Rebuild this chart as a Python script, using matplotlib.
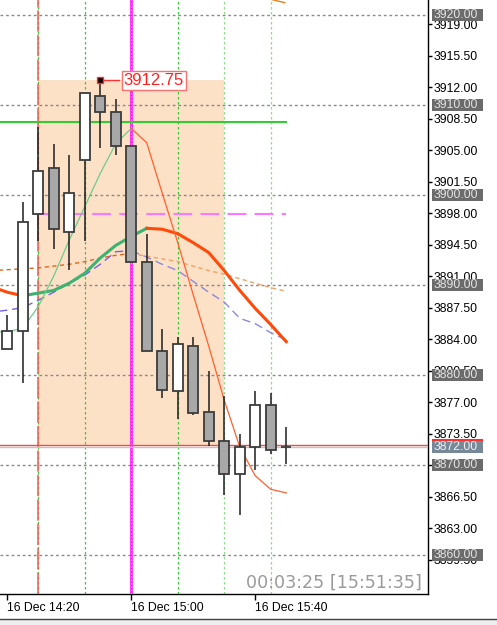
import numpy as np
import matplotlib.pyplot as plt
from matplotlib.patches import Rectangle
from matplotlib.transforms import blended_transform_factory

plt.rcParams['font.family'] = ['Liberation Sans', 'DejaVu Sans']

# 5 minute bars, 16 Dec
times = ['14:20', '14:25', '14:30', '14:35', '14:40', '14:45', '14:50', '14:55',
         '15:00', '15:05', '15:10', '15:15', '15:20', '15:25', '15:30', '15:35',
         '15:40', '15:45', '15:50']
opens = [3882.9, 3884.9, 3897.9, 3903.0, 3895.9, 3903.9, 3911.0, 3909.2, 3905.4, 3892.6,
         3882.7, 3878.2, 3883.2, 3875.9, 3872.7, 3869.0, 3872.0, 3876.7, 3872.0]
closes = [3884.9, 3897.0, 3902.7, 3896.2, 3900.2, 3911.3, 3909.2, 3905.4, 3892.6, 3882.7,
          3878.3, 3883.4, 3875.8, 3872.7, 3869.0, 3872.0, 3876.7, 3871.7, 3872.0]
highs = [3886.7, 3899.2, 3907.6, 3905.7, 3904.5, 3911.3, 3912.75, 3910.7, 3905.4, 3895.7,
         3885.1, 3884.2, 3884.2, 3880.4, 3877.7, 3873.5, 3878.2, 3878.0, 3874.2]
lows = [3882.9, 3879.1, 3894.9, 3894.0, 3891.7, 3894.9, 3905.2, 3904.4, 3892.6, 3882.7,
        3877.4, 3875.1, 3875.6, 3872.1, 3866.7, 3864.4, 3869.4, 3871.2, 3870.1]

# moving averages, first value is the bar before 14:20
fast_ma = [3884.8, 3884.8, 3885.2, 3887.6, 3891.0, 3895.0, 3898.7, 3902.4, 3905.7, 3907.4,
           3905.8, 3900.2, 3894.7, 3888.9, 3883.2, 3877.2, 3872.0, 3868.8, 3867.3, 3866.9]
mid_ma = [3889.8, 3889.2, 3888.8, 3889.1, 3889.4, 3890.2, 3891.3, 3893.0, 3894.4, 3895.4,
          3896.3, 3896.2, 3895.7, 3894.7, 3893.6, 3891.6, 3889.4, 3887.4, 3885.6, 3883.7]
slow_ma = [3891.6, 3891.7, 3891.8, 3891.9, 3892.1, 3892.3, 3892.6, 3893.0, 3893.3, 3893.5,
           3893.2, 3892.9, 3892.6, 3892.1, 3891.6, 3891.2, 3890.7, 3890.2, 3889.7, 3889.3]
blue_ma = [3887.0, 3887.2, 3887.5, 3888.3, 3889.2, 3890.2, 3891.1, 3892.3, 3893.7, 3893.8,
           3893.1, 3892.3, 3891.6, 3890.4, 3889.2, 3888.1, 3886.3, 3885.7, 3884.7, 3883.9]

round_levels = [3920, 3910, 3900, 3890, 3880, 3870, 3860]
price_ticks = np.arange(3859.5, 3920, 3.5)
green_level = 3908.1
magenta_level = 3897.9
bid = 3872.0
ask = 3872.18
range_start, range_end = 2, 14          # 14:30 .. 15:30
range_low = 3872.1
high_bar = int(np.argmax(highs))
grid_bars = [2, 5, 8, 11, 14, 17]
grid_colors = ['#33cc33', '#33cc33', '#33cc33', '#33cc33', '#8fdc8f', '#8fdc8f']
date_ticks = [0, 8, 16]

fig = plt.figure(figsize=(4.97, 6.25), dpi=100)
ax = fig.add_axes([0, 31 / 625, 428 / 497, 594 / 625])
ax.set_xlim(-0.468, 27.145)
ax.set_ylim(3855.667, 3921.667)

x = np.arange(len(times))
ma_x = np.arange(-1, len(times))


def colored_line(xs, ys, up, down, **kw):
    ys = np.asarray(ys)
    cols = [up if ys[k + 1] >= ys[k] else down for k in range(len(ys) - 1)]
    start = 0
    for k in range(1, len(cols) + 1):
        if k == len(cols) or cols[k] != cols[start]:
            ax.plot(xs[start:k + 1], ys[start:k + 1], color=cols[start], **kw)
            start = k


# range box
ax.add_patch(Rectangle((range_start, range_low), range_end - range_start,
                       max(highs) - range_low, facecolor='#fde1c6', edgecolor='none', zorder=1))

for lv in round_levels:
    ax.axhline(lv, color='#8a8a8a', lw=1, ls=(0, (2, 2)), zorder=2)
for b, c in zip(grid_bars, grid_colors):
    ax.axvline(b, color=c, lw=0.9, ls=(0, (2, 2)), zorder=2)

ax.axvline(range_start, color='#ff5555', lw=1.1, ls=(0, (14, 2)), zorder=3)
ax.axvline(8, color='#ff00ff', lw=1.8, zorder=3)
ax.axvline(8, color='#ff99ff', lw=0.6, ls=(0, (2, 2)), zorder=3)

ax.plot([ax.get_xlim()[0], 18], [green_level] * 2, color='#33cc33', lw=1.5, zorder=3)
ax.plot([range_start, 18], [magenta_level] * 2, color='#ff77ff', lw=1.5,
        ls=(0, (9, 4)), zorder=3)

ax.axhline(ask, color='#ff4444', lw=1, zorder=3)
ax.axhline(bid, color='#c4c4c4', lw=1, zorder=3)

# indicators
colored_line(ma_x, slow_ma, '#e4651a', '#f2a066', lw=1, ls=(0, (3, 2.5)), zorder=4)
colored_line(ma_x, blue_ma, '#7563e0', '#8e88dc', lw=1, ls=(0, (6, 3.5)), zorder=4)
colored_line(ma_x, mid_ma, '#3cb371', '#ff4a0a', lw=2.2, zorder=4)
colored_line(ma_x, fast_ma, '#6ccb8c', '#ff6030', lw=0.9, zorder=4)
ax.plot([17.1, 17.9], [3921.7, 3921.37], color='#e8801e', lw=1, zorder=4)

# candles
o = np.array(opens)
c = np.array(closes)
fills = ['white' if cc >= oo else '#a8a8a8' for oo, cc in zip(o, c)]
ax.vlines(x, lows, highs, color='#1e1e1e', lw=1.1, zorder=5)
ax.bar(x, np.abs(c - o), bottom=np.minimum(o, c), width=0.645, color=fills,
       edgecolor='#3c3c3c', linewidth=1.3, zorder=6)

# high label
ax.plot([high_bar, 7.23], [highs[high_bar]] * 2, color='#ff3030', lw=1, zorder=7)
ax.plot(high_bar, highs[high_bar], marker='s', ms=4.5, mfc='black', mec='#ff3030',
        mew=1, zorder=8)
ax.text(9.45, highs[high_bar], f'{highs[high_bar]:.2f}', color='#ff2020', fontsize=12,
        ha='center', va='center', zorder=8,
        bbox=dict(boxstyle='square,pad=0.12', fc='white', ec='#ff7070', lw=1))

# axes styling
for s in ['top', 'left']:
    ax.spines[s].set_visible(False)
for s in ['right', 'bottom']:
    ax.spines[s].set_color('black')
    ax.spines[s].set_linewidth(1)

ax.yaxis.tick_right()
ax.set_yticks(price_ticks)
ax.set_yticklabels([f'{p:.2f}' for p in price_ticks])
ax.tick_params(axis='y', length=3, width=1, pad=1, labelsize=8.8)
ax.set_xticks(date_ticks)
ax.set_xticklabels([f'16 Dec {times[t]}' for t in date_ticks], ha='left')
ax.tick_params(axis='x', length=4, width=1, pad=2, labelsize=8.8)

tr = blended_transform_factory(ax.transAxes, ax.transData)
bx0 = 432 / 428
bw = 51 / 428
for lv in round_levels:
    ax.add_patch(Rectangle((bx0, lv - 0.7), bw, 1.4, transform=tr, facecolor='#6b6b6b',
                           edgecolor='none', clip_on=False, zorder=10))
    ax.text(bx0 + 0.004, lv, f'{lv:.2f}', transform=tr, color='#e2e2e2', fontsize=8.8,
            ha='left', va='center', clip_on=False, zorder=11)
ax.add_patch(Rectangle((bx0, ask - 0.7), bw, 1.4, transform=tr, facecolor='#ff3030',
                       edgecolor='none', clip_on=False, zorder=10))
ax.add_patch(Rectangle((bx0, bid - 0.7), bw, 1.4, transform=tr, facecolor='#778899',
                       edgecolor='none', clip_on=False, zorder=10))
ax.text(bx0 + 0.004, bid, f'{bid:.2f}', transform=tr, color='#f0f0f0', fontsize=8.8,
        ha='left', va='center', clip_on=False, zorder=11)

ax.text(422 / 428, 6 / 594, '00:03:25 [15:51:35]', transform=ax.transAxes,
        color='#9a9a9a', fontsize=12.6, family='DejaVu Sans', ha='right',
        va='baseline', zorder=9)

# window frame at the bottom
fig.patches.append(Rectangle((0, 0), 1, 6 / 625, transform=fig.transFigure,
                             facecolor='#efefef', edgecolor='none'))
fig.lines.append(plt.Line2D([0, 1], [6 / 625, 6 / 625], transform=fig.transFigure,
                            color='#404040', lw=1))

fig.savefig('out.png', dpi=100)
